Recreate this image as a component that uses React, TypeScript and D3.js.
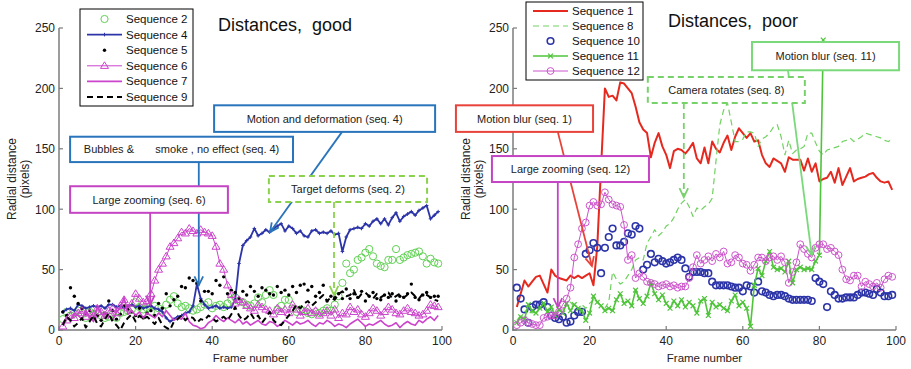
import React from 'react';
import * as d3 from 'd3';

const FRAME_TICKS = [0, 20, 40, 60, 80, 100];
const DIST_TICKS = [0, 50, 100, 150, 200, 250];

// ---------- left panel ("good") ----------
const seq2 = [9,15,12,14,16,13,10,15,13,14,12,10,11,13,10,14,15,16,17,23,19,17,18,15,20,18,16,21,25,28,22,19,20,18,16,17,19,21,23,18,20,21,19,22,25,27,24,23,21,20,22,27,23,29,33,29,17,20,25,25,18,15,17,16,14,13,15,14,16,18,16,21,28,39,55,47,50,58,60,64,67,61,55,53,52,58,58,67,58,60,62,63,64,65,61,55,59,56,55];
const seq4 = [15,17,18,16,21,20,18,19,20,19,20,18,21,21,19,20,18,20,21,19,20,18,19,20,18,17,15,10,7,9,11,12,14,15,20,38,26,21,18,19,20,18,19,18,19,25,55,70,74,77,84,78,80,83,81,84,86,88,82,86,84,80,82,78,77,82,83,80,81,80,82,79,80,65,77,83,84,85,84,88,86,90,92,88,92,87,93,97,90,94,96,98,95,99,101,103,92,95,98];
const seq5 = [15,12,35,28,22,18,14,16,10,12,8,14,24,16,9,13,20,17,15,12,18,10,14,16,12,22,18,30,20,25,28,36,35,43,41,39,24,32,32,30,41,37,44,30,33,31,26,32,29,36,32,28,35,33,30,29,36,31,33,29,36,31,37,38,33,36,28,31,37,24,28,27,30,26,34,26,30,27,32,24,28,31,26,25,29,27,30,24,28,27,30,38,27,25,29,31,27,28,28];
const seq6 = [3,8,12,10,14,16,11,14,12,18,15,12,16,18,14,20,25,18,22,30,26,23,24,30,41,50,55,61,69,72,76,81,80,84,82,80,83,81,80,78,69,55,50,37,29,22,25,23,20,18,16,21,19,17,16,13,18,15,17,14,21,17,12,15,18,14,16,12,14,16,12,17,10,14,13,19,15,17,13,11,14,18,16,12,15,19,17,14,13,16,18,15,14,12,13,16,21,20,19];
const seq7 = [5,10,8,14,12,9,16,11,7,19,14,10,12,8,15,18,27,13,16,12,15,10,14,12,10,14,11,16,12,8,10,9,14,7,4,3,1,2,6,8,12,9,7,10,8,6,9,5,7,4,6,8,5,4,7,6,3,5,8,6,4,7,5,6,8,5,3,6,5,8,6,3,5,4,2,5,7,9,6,3,5,4,6,8,5,3,4,6,2,5,7,5,4,8,6,9,11,8,12];
const seq9 = [4,11,8,3,6,10,2,7,12,5,3,9,14,7,4,0,6,10,13,7,12,9,11,8,5,10,4,2,0,7,9,12,8,11,10,6,9,8,12,10,7,9,11,8,13,19,12,8,10,14,9,12,6,10,15,8,5,4,8,12,16,21,18,22,24,20,23,26,29,24,27,25,30,32,28,29,33,26,30,31,28,26,30,27,29,31,26,28,30,27,29,31,28,26,30,29,27,25,24];

// ---------- right panel ("poor") ----------
const seq1 = [19,30,41,36,40,44,45,38,31,50,45,43,42,41,45,43,45,43,45,47,37,69,135,200,193,194,190,205,204,200,196,185,172,166,163,143,155,163,152,145,134,148,150,149,146,150,155,142,138,151,138,156,150,147,155,161,149,160,167,163,159,163,156,157,145,138,135,142,140,138,131,143,141,141,141,132,142,131,138,123,125,126,131,122,134,120,127,134,123,125,126,127,129,130,126,123,122,123,116];
const seq8 = [8,12,15,18,14,20,17,22,19,16,18,21,17,20,23,19,16,21,18,22,25,24,20,18,23,48,42,38,40,45,50,58,60,58,72,77,83,78,81,86,88,93,100,105,108,102,94,101,99,102,104,109,140,170,182,188,172,156,156,158,164,164,163,152,158,160,163,168,170,160,145,157,146,149,150,152,163,163,155,148,145,149,150,151,152,156,157,159,156,158,160,163,162,161,160,159,157,156,158];
const seq10 = [35,26,17,6,19,21,21,23,19,12,10,9,11,6,7,12,15,15,63,66,72,68,47,68,77,84,70,70,73,80,79,86,84,50,54,63,56,59,57,55,56,58,60,58,51,44,48,48,48,47,47,40,37,37,37,37,36,35,35,32,37,36,31,40,32,31,29,28,29,29,28,26,25,25,25,25,25,24,43,40,38,19,32,29,26,26,27,27,27,29,31,31,30,29,34,31,28,28,29];
const seq11 = [6,11,9,21,16,14,18,22,15,19,12,17,14,22,16,21,18,16,8,14,28,23,20,16,18,16,25,30,22,24,20,33,26,22,28,39,30,25,29,22,18,24,20,25,19,23,20,14,24,26,12,23,19,21,18,16,24,29,20,23,18,3,37,51,45,57,65,52,50,51,48,57,39,50,52,50,51,50,57,62,240];
const seq12 = [4,6,8,6,5,4,4,10,11,12,12,15,21,26,35,60,71,84,89,103,106,103,104,114,108,104,103,102,87,58,62,43,47,44,40,39,38,36,37,38,36,37,35,36,36,43,52,62,55,58,61,57,63,60,65,55,56,62,60,55,54,49,54,60,60,57,60,61,58,61,56,39,48,56,71,67,63,60,68,71,71,67,68,65,62,50,42,41,45,45,36,40,38,36,39,35,42,45,44];

const FONT = '"Liberation Sans", Arial, Helvetica, sans-serif';

type Series = {
  name: string; values: number[]; color: string;
  lineWidth?: number; dash?: string;
  marker?: 'circle' | 'dot' | 'plus' | 'x' | 'triangle';
  ms?: number; msw?: number;
};
type Note = {
  text: string; f0: number; f1: number; v0: number; v1: number;
  from: [number, number]; to: [number, number];
  color: string; dashed?: boolean;
};

const leftSeries: Series[] = [
  { name: 'Sequence 2', values: seq2, color: '#5fd152', marker: 'circle', ms: 3.6, msw: 1 },
  { name: 'Sequence 4', values: seq4, color: '#2c34a8', lineWidth: 1.8, marker: 'plus', ms: 1.8, msw: 1 },
  { name: 'Sequence 5', values: seq5, color: '#000000', marker: 'dot', ms: 1.7 },
  { name: 'Sequence 6', values: seq6, color: '#cc44cc', lineWidth: 1, marker: 'triangle', ms: 4, msw: 1 },
  { name: 'Sequence 7', values: seq7, color: '#cc44cc', lineWidth: 1.6 },
  { name: 'Sequence 9', values: seq9, color: '#000000', lineWidth: 2, dash: '6,4' },
];
const rightSeries: Series[] = [
  { name: 'Sequence 1', values: seq1, color: '#e6291f', lineWidth: 2 },
  { name: 'Sequence 8', values: seq8, color: '#70d260', lineWidth: 1.2, dash: '6,4' },
  { name: 'Sequence 10', values: seq10, color: '#2c34a8', marker: 'circle', ms: 3.3, msw: 1.6 },
  { name: 'Sequence 11', values: seq11, color: '#4fc43a', lineWidth: 1.6, marker: 'x', ms: 2.4, msw: 1.2 },
  { name: 'Sequence 12', values: seq12, color: '#cc55cc', lineWidth: 1, marker: 'circle', ms: 3.4, msw: 1 },
];

const leftNotes: Note[] = [
  { text: 'Bubbles &       smoke , no effect (seq. 4)', f0: 2.9, f1: 61.1, v0: 139, v1: 160, from: [36.5, 139], to: [36.5, 37], color: '#2a74bb' },
  { text: 'Motion and deformation (seq. 4)', f0: 40.5, f1: 98.2, v0: 164, v1: 186, from: [73.9, 164], to: [55.1, 81], color: '#2a74bb' },
  { text: 'Target deforms (seq. 2)', f0: 54.8, f1: 96.1, v0: 106, v1: 127.5, from: [71.8, 106], to: [71.8, 29], color: '#8bd24c', dashed: true },
  { text: 'Large zooming (seq. 6)', f0: 2.9, f1: 44.1, v0: 97, v1: 119, from: [23.8, 97], to: [23.8, 21], color: '#c444c4' },
];
const rightNotes: Note[] = [
  { text: 'Motion blur (seq. 11)', f0: 62.4, f1: 100.8, v0: 215, v1: 238.4, from: [71.8, 215], to: [78, 62], color: '#7ad97a' },
  { text: 'Motion blur (seq. 1)', f0: -14.9, f1: 20.9, v0: 164, v1: 186, from: [11.7, 164], to: [20.6, 53], color: '#e8433a' },
  { text: 'Large zooming (seq. 12)', f0: -5.5, f1: 35.5, v0: 122.5, v1: 144, from: [11.7, 122.5], to: [11.7, 19], color: '#c444c4' },
  { text: 'Camera rotates (seq. 8)', f0: 35.2, f1: 76.2, v0: 188, v1: 209.4, from: [44.6, 188], to: [44.6, 110], color: '#78d26c', dashed: true },
];

function Marker({ kind, cx, cy, color, s, sw }: { kind: string; cx: number; cy: number; color: string; s: number; sw: number }) {
  switch (kind) {
    case 'circle':
      return <circle cx={cx} cy={cy} r={s} fill="none" stroke={color} strokeWidth={sw} />;
    case 'dot':
      return <circle cx={cx} cy={cy} r={s} fill={color} />;
    case 'plus':
      return <path d={`M${cx - s},${cy}H${cx + s}M${cx},${cy - s}V${cy + s}`} stroke={color} strokeWidth={sw} />;
    case 'x':
      return <path d={`M${cx - s},${cy - s}L${cx + s},${cy + s}M${cx - s},${cy + s}L${cx + s},${cy - s}`} stroke={color} strokeWidth={sw} />;
    case 'triangle':
      return <path d={`M${cx},${cy - s}L${cx + s},${cy + s * 0.65}L${cx - s},${cy + s * 0.65}Z`} fill="none" stroke={color} strokeWidth={sw} />;
    default:
      return null;
  }
}

function Arrow({ x1, y1, x2, y2, color, width, dash }: any) {
  const a = Math.atan2(y2 - y1, x2 - x1);
  const L = 10, h = 0.45;
  const p1 = [x2 - L * Math.cos(a - h), y2 - L * Math.sin(a - h)];
  const p2 = [x2 - L * Math.cos(a + h), y2 - L * Math.sin(a + h)];
  return (
    <g stroke={color} strokeWidth={width} fill="none">
      <line x1={x1} y1={y1} x2={x2} y2={y2} strokeDasharray={dash} />
      <path d={`M${p1[0]},${p1[1]}L${x2},${y2}L${p2[0]},${p2[1]}`} />
    </g>
  );
}

type PanelProps = {
  px0: number; px1: number; title: string; titleX: number; titleY: number;
  series: Series[]; notes: Note[];
  legend: { x: number; y: number; w: number; h: number; row0: number; step: number };
};

function Panel({ px0, px1, title, titleX, titleY, series, notes, legend }: PanelProps) {
  const x = d3.scaleLinear().domain([0, 100]).range([px0, px1]);
  const y = d3.scaleLinear().domain([0, 250]).range([330, 28]);
  const axisColor = '#7c7c7c';
  const lineGen = d3.line<number>().x((_, i) => x(i + 1)).y((d) => y(d));

  return (
    <g fontFamily={FONT}>
      {/* axes */}
      <line x1={px0} y1={y(250)} x2={px0} y2={y(0) + 0.75} stroke={axisColor} strokeWidth={1.5} />
      <line x1={px0 - 0.75} y1={y(0)} x2={px1} y2={y(0)} stroke={axisColor} strokeWidth={1.5} />
      {DIST_TICKS.map((t) => (
        <g key={'y' + t}>
          <line x1={px0} x2={px0 + 4} y1={y(t)} y2={y(t)} stroke={axisColor} strokeWidth={1.2} />
          <text x={px0 - 4} y={y(t) + 4.3} fontSize={12} textAnchor="end" fill="#222">{t}</text>
        </g>
      ))}
      {FRAME_TICKS.map((t) => (
        <g key={'x' + t}>
          <line x1={x(t)} x2={x(t)} y1={y(0)} y2={y(0) - 4} stroke={axisColor} strokeWidth={1.2} />
          <text x={x(t)} y={345} fontSize={12} textAnchor="middle" fill="#222">{t}</text>
        </g>
      ))}
      <text x={(px0 + px1) / 2} y={361.5} fontSize={11.5} textAnchor="middle" fill="#222">Frame number</text>
      <text transform={`translate(${px0 - 43},179) rotate(-90)`} fontSize={12} textAnchor="middle" fill="#222">Radial distance</text>
      <text transform={`translate(${px0 - 30.5},179) rotate(-90)`} fontSize={12} textAnchor="middle" fill="#222">(pixels)</text>
      <text x={titleX} y={titleY} fontSize={18} fill="#111" style={{ whiteSpace: 'pre' }}>{title}</text>

      {/* data */}
      {series.map((s) => (
        <g key={s.name}>
          {s.lineWidth ? (
            <path d={lineGen(s.values) || ''} fill="none" stroke={s.color} strokeWidth={s.lineWidth} strokeDasharray={s.dash} strokeLinejoin="round" />
          ) : null}
          {s.marker ? s.values.map((v, i) => (
            <Marker key={i} kind={s.marker!} cx={x(i + 1)} cy={y(v)} color={s.color} s={s.ms || 3} sw={s.msw || 1} />
          )) : null}
        </g>
      ))}

      {/* annotation arrows */}
      {notes.map((n) => (
        <Arrow key={'a' + n.text} x1={x(n.from[0])} y1={y(n.from[1])} x2={x(n.to[0])} y2={y(n.to[1])}
          color={n.color} width={1.8} dash={n.dashed ? '6,4' : undefined} />
      ))}
      {/* annotation boxes */}
      {notes.map((n) => (
        <g key={'b' + n.text}>
          <rect x={x(n.f0)} y={y(n.v1)} width={x(n.f1) - x(n.f0)} height={y(n.v0) - y(n.v1)}
            fill="#fff" stroke={n.color} strokeWidth={2} strokeDasharray={n.dashed ? '6,4' : undefined} />
          <text x={(x(n.f0) + x(n.f1)) / 2} y={(y(n.v0) + y(n.v1)) / 2 + 4} fontSize={11} textAnchor="middle"
            fill="#222" style={{ whiteSpace: 'pre' }}>{n.text}</text>
        </g>
      ))}

      {/* legend */}
      <g>
        <rect x={legend.x} y={legend.y} width={legend.w} height={legend.h} fill="#fff" stroke="#000" strokeWidth={1} />
        {series.map((s, i) => {
          const ly = legend.row0 + i * legend.step;
          const lx0 = legend.x + 7, lx1 = legend.x + 42, mid = (lx0 + lx1) / 2;
          return (
            <g key={'l' + s.name}>
              {s.lineWidth ? <line x1={lx0} x2={lx1} y1={ly} y2={ly} stroke={s.color} strokeWidth={s.lineWidth} strokeDasharray={s.dash} /> : null}
              {s.marker ? <Marker kind={s.marker} cx={mid} cy={ly} color={s.color} s={s.ms || 3} sw={s.msw || 1} /> : null}
              <text x={legend.x + 46} y={ly + 4} fontSize={11.5} fill="#111">{s.name}</text>
            </g>
          );
        })}
      </g>
    </g>
  );
}

export default function App() {
  return (
    <svg width={911} height={369} style={{ position: 'absolute', left: 0, top: 0, background: '#fff' }}>
      <rect width={911} height={369} fill="#fff" />
      <Panel px0={59} px1={442} title="Distances,  good" titleX={218} titleY={31}
        series={leftSeries} notes={leftNotes}
        legend={{ x: 80, y: 9, w: 113, h: 97, row0: 19, step: 15.6 }} />
      <Panel px0={513} px1={896} title="Distances,  poor" titleX={668} titleY={27}
        series={rightSeries} notes={rightNotes}
        legend={{ x: 526, y: 2, w: 117, h: 78, row0: 11, step: 15 }} />
    </svg>
  );
}
